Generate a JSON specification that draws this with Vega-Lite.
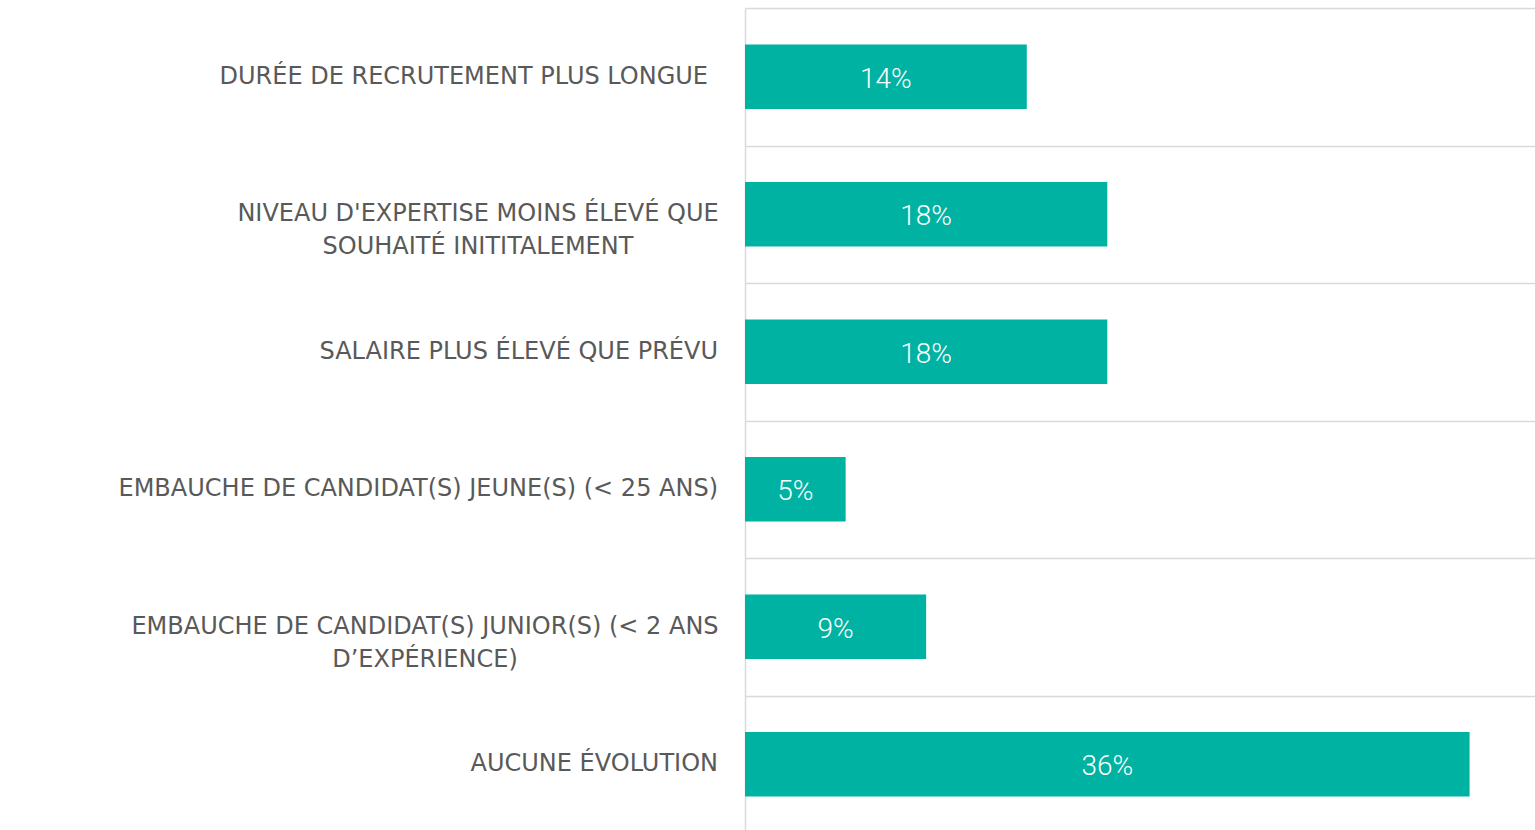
{
  "$schema": "https://vega.github.io/schema/vega-lite/v6.json",
  "width": 790,
  "height": 825,
  "autosize": "none",
  "padding": {"left": 745, "top": 8, "right": 0, "bottom": 0},
  "background": "white",
  "config": {"view": {"stroke": null}},
  "data": {
    "values": [
      {"cat": "DURÉE DE RECRUTEMENT PLUS LONGUE", "pct": 0.14},
      {"cat": "NIVEAU D'EXPERTISE MOINS ÉLEVÉ QUE\nSOUHAITÉ INITITALEMENT", "pct": 0.18},
      {"cat": "SALAIRE PLUS ÉLEVÉ QUE PRÉVU", "pct": 0.18},
      {"cat": "EMBAUCHE DE CANDIDAT(S) JEUNE(S) (< 25 ANS)", "pct": 0.05},
      {"cat": "EMBAUCHE DE CANDIDAT(S) JUNIOR(S) (< 2 ANS\nD’EXPÉRIENCE)", "pct": 0.09},
      {"cat": "AUCUNE ÉVOLUTION", "pct": 0.36}
    ]
  },
  "encoding": {
    "y": {
      "field": "cat",
      "type": "nominal",
      "sort": null,
      "scale": {"paddingInner": 0, "paddingOuter": 0},
      "axis": {
        "title": null,
        "labels": false,
        "domain": true,
        "domainColor": "#d9d9d9",
        "domainWidth": 1.5,
        "ticks": false,
        "grid": true,
        "gridColor": "#d9d9d9",
        "gridWidth": 1.5,
        "tickBand": "extent"
      }
    }
  },
  "layer": [
    {
      "mark": {"type": "bar", "color": "#00B2A2", "height": {"band": 0.47}},
      "encoding": {
        "x": {
          "field": "pct",
          "type": "quantitative",
          "scale": {"domain": [0, 0.3925], "nice": false, "zero": true},
          "axis": null
        }
      }
    },
    {
      "mark": {"type": "text", "color": "white", "font": "Roboto", "fontWeight": 300, "fontSize": 28, "baseline": "middle", "align": "center", "dy": 3},
      "transform": [{"calculate": "datum.pct / 2", "as": "mid"}],
      "encoding": {
        "x": {"field": "mid", "type": "quantitative"},
        "text": {"field": "pct", "type": "quantitative", "format": ".0%"}
      }
    },
    {
      "mark": {
        "type": "text",
        "color": "#595959",
        "font": "DejaVu Sans",
        "fontSize": 24,
        "baseline": "middle",
        "lineBreak": "\n",
        "lineHeight": 33,
        "align": {"expr": "indexof(datum.cat, '\\n') >= 0 ? 'center' : 'right'"},
        "dx": {"expr": "indexof(datum.cat, 'NIVEAU') == 0 ? -267 : indexof(datum.cat, 'JUNIOR') >= 0 ? -320 : indexof(datum.cat, 'DUR') == 0 ? -37 : -27"}
      },
      "encoding": {
        "x": {"datum": 0, "type": "quantitative"},
        "text": {"field": "cat", "type": "nominal"}
      }
    }
  ]
}
